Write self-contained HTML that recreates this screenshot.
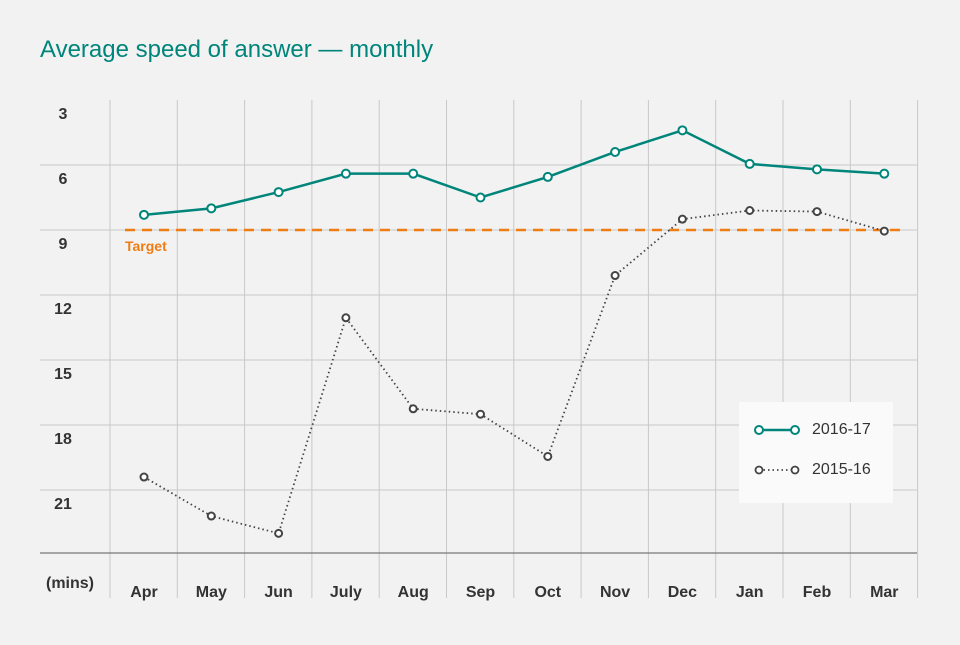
<!DOCTYPE html>
<html><head><meta charset="utf-8"><style>
html,body{margin:0;padding:0;background:#f2f2f2;}
svg text{font-family:"Liberation Sans",sans-serif;}
</style></head><body>
<svg width="960" height="640" viewBox="0 0 960 640" xmlns="http://www.w3.org/2000/svg">
<rect width="960" height="640" fill="#f2f2f2"/>
<text x="40" y="57" font-size="24" fill="#00857a">Average speed of answer — monthly</text>
<g id="grid"></g>
<g id="series"></g>
<rect x="739" y="402" width="154" height="101" fill="#fafafa"/>
<line x1="759" y1="430" x2="795" y2="430" stroke="#00857a" stroke-width="2.5"/>
<circle cx="759" cy="430" r="4" fill="#fff" stroke="#00857a" stroke-width="2"/>
<circle cx="795" cy="430" r="4" fill="#fff" stroke="#00857a" stroke-width="2"/>
<text x="812" y="430" font-size="16" fill="#333" dominant-baseline="middle">2016-17</text>
<line x1="759" y1="470" x2="795" y2="470" stroke="#444" stroke-width="1.8" stroke-dasharray="1.5,3"/>
<circle cx="759" cy="470" r="3.5" fill="#fff" stroke="#444" stroke-width="1.8"/>
<circle cx="795" cy="470" r="3.5" fill="#fff" stroke="#444" stroke-width="1.8"/>
<text x="812" y="470" font-size="16" fill="#333" dominant-baseline="middle">2015-16</text>
</svg>
<script>
const months=["Apr","May","Jun","July","Aug","Sep","Oct","Nov","Dec","Jan","Feb","Mar"];
const s2016=[8.3,8.0,7.25,6.4,6.4,7.5,6.55,5.4,4.4,5.95,6.2,6.4];
const s2015=[20.4,22.2,23.0,13.05,17.25,17.5,19.45,11.1,8.5,8.1,8.15,9.05];
const yTicks=[3,6,9,12,15,18,21];
const target=9;
const NS="http://www.w3.org/2000/svg";
function y(v){return 230+(v-9)*21.67;}
function x(i){return 144+i*67.3;}
function mk(p,tag,a){const e=document.createElementNS(NS,tag);for(const k in a)e.setAttribute(k,a[k]);p.appendChild(e);return e;}
const g=document.getElementById('grid'),s=document.getElementById('series');
for(let i=0;i<=12;i++){const gx=110+i*67.3;
 const l=mk(g,'line',{x1:gx,y1:100,x2:gx,y2:598,stroke:'#c8c8c8','stroke-width':1});
 
 }
yTicks.forEach((v,i)=>{
 if(i>0){const l=mk(g,'line',{x1:40,y1:y(v),x2:917,y2:y(v),stroke:'#c8c8c8','stroke-width':1});
 
 }
 const t=mk(g,'text',{x:63,y:y(v)+19,'font-size':16,'font-weight':'bold',fill:'#333','text-anchor':'middle'});t.textContent=v;
 
 });
const ax=mk(g,'line',{x1:40,y1:553,x2:917,y2:553,stroke:'#777','stroke-width':1.2});


const u=mk(g,'text',{x:70,y:588,'font-size':16,'font-weight':'bold',fill:'#333','text-anchor':'middle'});u.textContent='(mins)';


months.forEach((m,i)=>{const t=mk(g,'text',{x:x(i),y:597,'font-size':16,'font-weight':'bold',fill:'#333','text-anchor':'middle'});t.textContent=m;
 
 });
const tl=mk(s,'line',{x1:125,y1:y(target),x2:905,y2:y(target),stroke:'#f07c14','stroke-width':2.5,'stroke-dasharray':'10,7'});


const tt=mk(s,'text',{x:125,y:y(target)+21,'font-size':14,'font-weight':'bold',fill:'#f07c14'});tt.textContent='Target';


function draw(arr,col,w,dash,r,name){
 const p=mk(s,'polyline',{points:arr.map((v,i)=>x(i)+','+y(v)).join(' '),fill:'none',stroke:col,'stroke-width':w,'stroke-dasharray':dash});
 
 
 arr.forEach((v,i)=>{const c=mk(s,'circle',{cx:x(i),cy:y(v),r:r,fill:'#fff',stroke:col,'stroke-width':2});
 
 });
}
draw(s2015,'#444',1.8,'1.5,3',3.5,'2015-16');
draw(s2016,'#00857a',2.5,'none',4,'2016-17');
</script>
</body></html>
